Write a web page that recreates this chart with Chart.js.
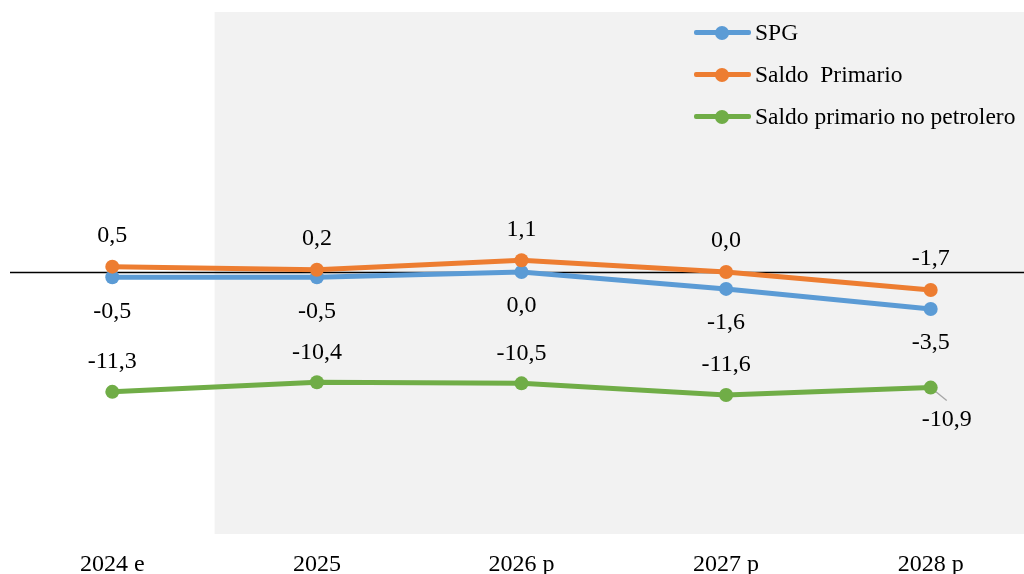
<!DOCTYPE html>
<html lang="es">
<head>
<meta charset="utf-8">
<script src="https://cdn.jsdelivr.net/npm/chart.js@4"></script>
<style>
  html, body { margin: 0; padding: 0; background: #fff; overflow: hidden; }
  #wrap { position: relative; width: 1024px; height: 574px; overflow: hidden; }
  #chart { position: absolute; left: 0; top: 0; }
  .legend { position: absolute; left: 694px; top: 0; font-family: "Liberation Serif", "Times New Roman", serif; font-size: 23.5px; color: #000; }
  .legend-row { position: absolute; left: 0; height: 24px; white-space: pre; }
  .legend-key { position: absolute; left: 0; top: 10px; width: 57px; height: 5px; border-radius: 2px; }
  .legend-key::after { content: ""; position: absolute; left: 21px; top: -4.5px; width: 14px; height: 14px; border-radius: 50%; background: inherit; }
  .legend-text { position: absolute; left: 61px; top: 0; line-height: 24px; }
</style>
</head>
<body>
<div id="wrap">
  <canvas id="chart" width="1040" height="595"></canvas>
  <div class="legend" id="legend"></div>
</div>
<script>
const years = ["2024 e", "2025", "2026 p", "2027 p", "2028 p"];
const spg = [-0.5, -0.5, 0.0, -1.6, -3.5];
const saldoPrimario = [0.5, 0.2, 1.1, 0.0, -1.7];
const saldoNoPetrolero = [-11.3, -10.4, -10.5, -11.6, -10.9];

const seriesNames = ["SPG", "Saldo  Primario", "Saldo primario no petrolero"];
const seriesColors = ["#5b9bd5", "#ed7d31", "#70ad47"];

const serif = "'Liberation Serif', 'Times New Roman', serif";

function fmt(v) {
  return v.toFixed(1).replace(".", ",");
}

// grey band behind the forecast years + zero line
const backdrop = {
  id: "backdrop",
  beforeDatasetsDraw(chart) {
    const { ctx, chartArea, scales } = chart;
    const x = scales.x;
    const half = (x.getPixelForValue(1) - x.getPixelForValue(0)) / 2;
    const start = x.getPixelForValue(1) - half;
    ctx.save();
    ctx.fillStyle = "#f2f2f2";
    ctx.fillRect(start, chartArea.top, chartArea.right - start, chartArea.bottom - chartArea.top);
    const y0 = Math.round(scales.y.getPixelForValue(0)) + 0.5;
    ctx.strokeStyle = "#000";
    ctx.lineWidth = 1.5;
    ctx.beginPath();
    ctx.moveTo(chartArea.left, y0);
    ctx.lineTo(chartArea.right, y0);
    ctx.stroke();

    // leader lines for labels moved away from their point
    chart.data.datasets.forEach((ds, di) => {
      if (!ds.labelShift) return;
      const meta = chart.getDatasetMeta(di);
      meta.data.forEach((pt, i) => {
        const shift = ds.labelShift[i];
        if (!shift) return;
        ctx.strokeStyle = "#a6a6a6";
        ctx.lineWidth = 1.3;
        ctx.beginPath();
        ctx.moveTo(pt.x, pt.y);
        ctx.lineTo(pt.x + shift[0], pt.y + shift[1] - 19);
        ctx.stroke();
      });
    });
    ctx.restore();
  }
};

// value labels next to each point
const valueLabels = {
  id: "valueLabels",
  afterDatasetsDraw(chart) {
    const { ctx } = chart;
    ctx.save();
    ctx.font = "24px " + serif;
    ctx.fillStyle = "#000";
    ctx.textAlign = "center";
    ctx.textBaseline = "middle";
    chart.data.datasets.forEach((ds, di) => {
      const meta = chart.getDatasetMeta(di);
      meta.data.forEach((pt, i) => {
        const shift = ds.labelShift && ds.labelShift[i];
        const dx = shift ? shift[0] : 0;
        const dy = shift ? shift[1] : ds.labelDy;
        ctx.fillText(fmt(ds.data[i]), pt.x + dx, pt.y + dy);
      });
    });
    ctx.restore();
  }
};

function lineSet(label, data, color, extra) {
  return Object.assign({
    label: label,
    data: data,
    borderColor: color,
    backgroundColor: color,
    borderWidth: 5,
    pointRadius: 7,
    pointHoverRadius: 7,
    pointBorderWidth: 0,
    tension: 0,
  }, extra);
}

new Chart(document.getElementById("chart"), {
  type: "line",
  data: {
    labels: years,
    datasets: [
      lineSet(seriesNames[0], spg, seriesColors[0], { labelDy: 34, order: 2 }),
      lineSet(seriesNames[1], saldoPrimario, seriesColors[1], { labelDy: -31, order: 1 }),
      lineSet(seriesNames[2], saldoNoPetrolero, seriesColors[2], { labelDy: -30, order: 3, labelShift: [null, null, null, null, [16, 32]] }),
    ],
  },
  options: {
    responsive: false,
    animation: false,
    events: [],
    layout: { padding: { top: 12, left: 10, right: 7, bottom: 0 } },
    plugins: { legend: { display: false }, tooltip: { enabled: false } },
    scales: {
      x: {
        offset: true,
        grid: { display: false, drawTicks: false },
        border: { display: false },
        ticks: { color: "#000", font: { family: serif, size: 24 }, padding: 16.1, maxRotation: 0 },
      },
      y: {
        display: false,
        min: -24.7,
        max: 24.5,
      },
    },
  },
  plugins: [backdrop, valueLabels],
});

// legend rows, top right over the grey band
const legend = document.getElementById("legend");
const rowTops = [20, 62, 104];
seriesNames.forEach((name, i) => {
  const row = document.createElement("div");
  row.className = "legend-row";
  row.style.top = rowTops[i] + "px";
  const key = document.createElement("div");
  key.className = "legend-key";
  key.style.background = seriesColors[i];
  const text = document.createElement("div");
  text.className = "legend-text";
  text.textContent = name;
  row.appendChild(key);
  row.appendChild(text);
  legend.appendChild(row);
});
</script>
</body>
</html>
